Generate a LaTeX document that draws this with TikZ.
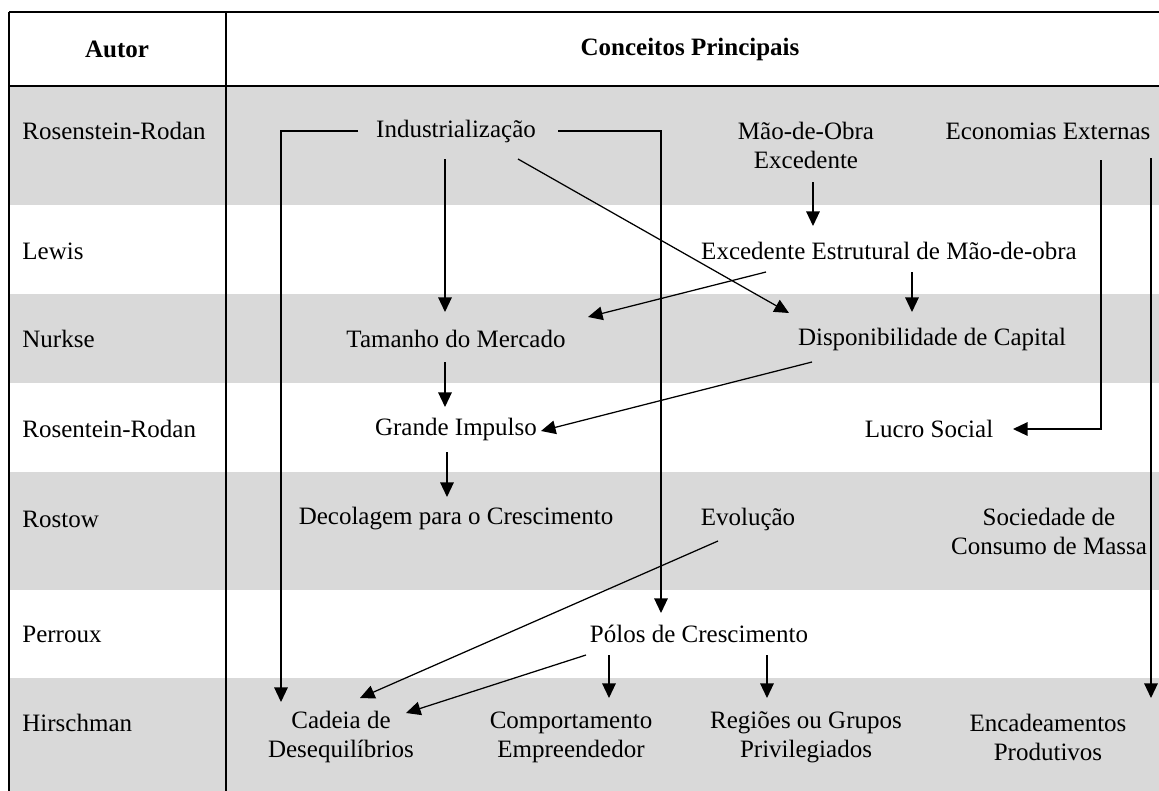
\documentclass[tikz,border=0pt]{standalone}
\usepackage{fontspec}
\setmainfont{Liberation Serif}
\usetikzlibrary{calc,arrows.meta}
\definecolor{rowgray}{HTML}{D9D9D9}
\tikzset{
	autor/.style={anchor=west, inner sep=0},
	conceito/.style={inner sep=0, align=center},
	seta/.style={line width=0.6pt, -{Triangle[length=7pt,width=6.5pt]}},
}

\begin{document}
\begin{tikzpicture}[x=0.48pt, y=-0.48pt, font=\fontsize{12}{13.9}\selectfont]
		%%%%% START %%%%%
		\useasboundingbox (0,0) rectangle (1159,791);
		
		\fill[rowgray] (9,86) rectangle (1159,205);
		\fill[rowgray] (9,294) rectangle (1159,383);
		\fill[rowgray] (9,472) rectangle (1159,590);
		\fill[rowgray] (9,678) rectangle (1159,791);
		
		\draw[line width=1pt] (9,12) -- (1159,12);
		\draw[line width=0.6pt] (9,86) -- (1159,86);
		\draw[line width=1pt] (9,12) -- (9,791);
		\draw[line width=1pt] (226,12) -- (226,791);
		
		\node[font=\fontsize{12}{13.9}\selectfont\bfseries] (hautor) at (117,49) {Autor};
		\node[font=\fontsize{12}{13.9}\selectfont\bfseries] (hconc) at (690,49) {Conceitos Principais};
		
		\node[autor] (a1) at (22,131) {Rosenstein-Rodan};
		\node[autor] (a2) at (22,251) {Lewis};
		\node[autor] (a3) at (22,339) {Nurkse};
		\node[autor] (a4) at (22,429) {Rosentein-Rodan};
		\node[autor] (a5) at (22,519) {Rostow};
		\node[autor] (a6) at (22,634) {Perroux};
		\node[autor] (a7) at (22,723) {Hirschman};
		
		\node[conceito] (ind) at (456,131) {Industrialização};
		\node[conceito] (mao) at (806,145) {Mão-de-Obra\\Excedente};
		\node[conceito] (eco) at (1048,131) {Economias Externas};
		\node[conceito] (exc) at (889,251) {Excedente Estrutural de Mão-de-obra};
		\node[conceito] (tam) at (456,339) {Tamanho do Mercado};
		\node[conceito] (disp) at (932,339) {Disponibilidade de Capital};
		\node[conceito] (gra) at (456,429) {Grande Impulso};
		\node[conceito] (luc) at (929,429) {Lucro Social};
		\node[conceito] (dec) at (456,519) {Decolagem para o Crescimento};
		\node[conceito] (evo) at (748,519) {Evolução};
		\node[conceito] (soc) at (1049,531) {Sociedade de\\Consumo de Massa};
		\node[conceito] (pol) at (699,634) {Pólos de Crescimento};
		\node[conceito] (cad) at (341,737) {Cadeia de\\Desequilíbrios};
		\node[conceito] (com) at (571,737) {Comportamento\\Empreendedor};
		\node[conceito] (reg) at (806,737) {Regiões ou Grupos\\Privilegiados};
		\node[conceito] (enc) at (1048,737) {Encadeamentos\\Produtivos};
		
		% Industrializacao
		\draw[seta] ($(ind)+(-98,0)$) -| ($(cad)+(-60,-35)$);
		\draw[seta] ($(ind)+(102,0)$) -| ($(pol)+(-38,-21)$);
		\draw[seta] ($(ind)+(-11,28)$) -- ($(tam)+(-11,-27)$);
		\draw[seta] ($(ind)+(62,28)$) -- ($(disp)+(-143,-26)$);
		
		\draw[seta] ($(mao)+(7,37)$) -- ($(mao)+(7,81)$);
		\draw[seta] ($(exc)+(-123,21)$) -- ($(tam)+(132,-22)$);
		\draw[seta] ($(exc)+(23,21)$) -- ($(disp)+(-20,-27)$);
		
		\draw[seta] ($(tam)+(-11,23)$) -- ($(gra)+(-11,-22)$);
		\draw[seta] ($(disp)+(-120,23)$) -- ($(gra)+(85,2)$);
		\draw[seta] ($(gra)+(-9,23)$) -- ($(dec)+(-9,-22)$);
		
		% Economias Externas
		\draw[seta] ($(eco)+(53,29)$) |- ($(luc)+(84,0)$);
		\draw[seta] ($(eco)+(103,27)$) -- ($(enc)+(103,-39)$);
		
		\draw[seta] ($(evo)+(-30,22)$) -- ($(cad)+(19,-39)$);
		\draw[seta] ($(pol)+(-113,21)$) -- ($(cad)+(65,-24)$);
		\draw[seta] ($(pol)+(-90,21)$) -- ($(com)+(38,-39)$);
		\draw[seta] ($(pol)+(68,21)$) -- ($(reg)+(-39,-39)$);
		
		%%%%% END %%%%%
\end{tikzpicture}
\end{document}
